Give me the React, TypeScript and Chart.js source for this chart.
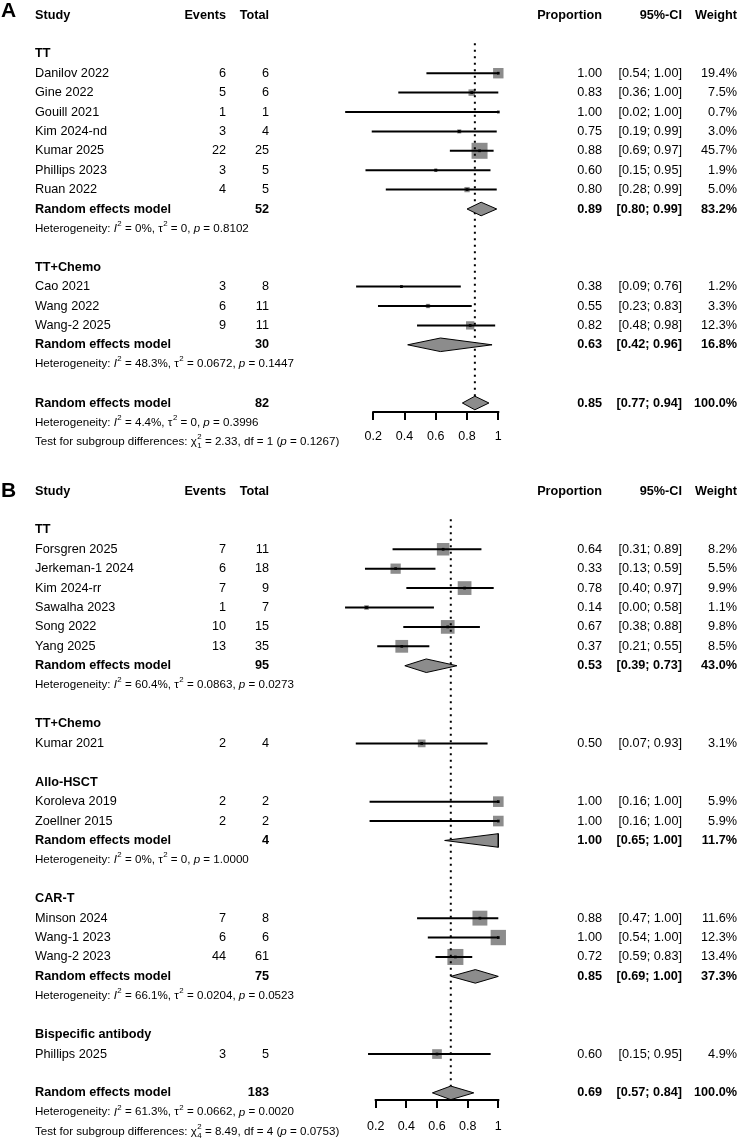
import React, { useEffect, useRef } from 'react';
import { Chart, registerables } from 'chart.js';

Chart.register(...registerables);

const FONT = '"Liberation Sans", Arial, Helvetica, sans-serif';

// ---------------- Panel A ----------------
const groupsA = ['TT', 'TT+Chemo'];
const studiesA = ['Danilov 2022', 'Gine 2022', 'Gouill 2021', 'Kim 2024-nd', 'Kumar 2025', 'Phillips 2023', 'Ruan 2022', 'Cao 2021', 'Wang 2022', 'Wang-2 2025'];
const studyGroupA = [0, 0, 0, 0, 0, 0, 0, 1, 1, 1];
const eventsA = [6, 5, 1, 3, 22, 3, 4, 3, 6, 9];
const totalsA = [6, 6, 1, 4, 25, 5, 5, 8, 11, 11];
const propA = [1.0, 0.83, 1.0, 0.75, 0.88, 0.6, 0.8, 0.38, 0.55, 0.82];
const lowerA = [0.54, 0.36, 0.02, 0.19, 0.69, 0.15, 0.28, 0.09, 0.23, 0.48];
const upperA = [1.0, 1.0, 1.0, 0.99, 0.97, 0.95, 0.99, 0.76, 0.83, 0.98];
const weightA = [19.4, 7.5, 0.7, 3.0, 45.7, 1.9, 5.0, 1.2, 3.3, 12.3];
const subTotalA = [52, 30];
const subPropA = [0.89, 0.63];
const subLowerA = [0.8, 0.42];
const subUpperA = [0.99, 0.96];
const subWeightA = [83.2, 16.8];
const subI2A = [0, 48.3];
const subTau2A = [0, 0.0672];
const subPA = [0.8102, 0.1447];
const overallA = [82, 0.85, 0.77, 0.94, 100.0]; // total, prop, lower, upper, weight
const overallHetA = [4.4, 0, 0.3996]; // I2, tau2, p
const subgroupTestA = [2.33, 1, 0.1267]; // chi2, df, p

// ---------------- Panel B ----------------
const groupsB = ['TT', 'TT+Chemo', 'Allo-HSCT', 'CAR-T', 'Bispecific antibody'];
const studiesB = ['Forsgren 2025', 'Jerkeman-1 2024', 'Kim 2024-rr', 'Sawalha 2023', 'Song 2022', 'Yang 2025', 'Kumar 2021', 'Koroleva 2019', 'Zoellner 2015', 'Minson 2024', 'Wang-1 2023', 'Wang-2 2023', 'Phillips 2025'];
const studyGroupB = [0, 0, 0, 0, 0, 0, 1, 2, 2, 3, 3, 3, 4];
const eventsB = [7, 6, 7, 1, 10, 13, 2, 2, 2, 7, 6, 44, 3];
const totalsB = [11, 18, 9, 7, 15, 35, 4, 2, 2, 8, 6, 61, 5];
const propB = [0.64, 0.33, 0.78, 0.14, 0.67, 0.37, 0.5, 1.0, 1.0, 0.88, 1.0, 0.72, 0.6];
const lowerB = [0.31, 0.13, 0.4, 0.0, 0.38, 0.21, 0.07, 0.16, 0.16, 0.47, 0.54, 0.59, 0.15];
const upperB = [0.89, 0.59, 0.97, 0.58, 0.88, 0.55, 0.93, 1.0, 1.0, 1.0, 1.0, 0.83, 0.95];
const weightB = [8.2, 5.5, 9.9, 1.1, 9.8, 8.5, 3.1, 5.9, 5.9, 11.6, 12.3, 13.4, 4.9];
const subTotalB = [95, null, 4, 75, null];
const subPropB = [0.53, null, 1.0, 0.85, null];
const subLowerB = [0.39, null, 0.65, 0.69, null];
const subUpperB = [0.73, null, 1.0, 1.0, null];
const subWeightB = [43.0, null, 11.7, 37.3, null];
const subI2B = [60.4, null, 0, 66.1, null];
const subTau2B = [0.0863, null, 0, 0.0204, null];
const subPB = [0.0273, null, 1.0, 0.0523, null];
const overallB = [183, 0.69, 0.57, 0.84, 100.0];
const overallHetB = [61.3, 0.0662, 0.002];
const subgroupTestB = [8.49, 4, 0.0753];

// ---------------- Axis ticks ----------------
const xTickValues = [0.2, 0.4, 0.6, 0.8, 1];
const xTickLabels = ['0.2', '0.4', '0.6', '0.8', '1'];

type Panel = {
  letter: string;
  groups: string[];
  studies: string[];
  studyGroup: number[];
  events: number[];
  totals: number[];
  prop: number[];
  lower: number[];
  upper: number[];
  weight: number[];
  subTotal: (number | null)[];
  subProp: (number | null)[];
  subLower: (number | null)[];
  subUpper: (number | null)[];
  subWeight: (number | null)[];
  subI2: (number | null)[];
  subTau2: (number | null)[];
  subP: (number | null)[];
  overall: number[];
  overallHet: number[];
  test: number[];
  layout: {
    top: number; height: number; padTop: number; padBottom: number; axisPx: number;
    x0: number; x1: number; tickPad: number; letterDy: number; pitch: number;
  };
};

const panelA: Panel = {
  letter: 'A', groups: groupsA, studies: studiesA, studyGroup: studyGroupA, events: eventsA, totals: totalsA,
  prop: propA, lower: lowerA, upper: upperA, weight: weightA, subTotal: subTotalA, subProp: subPropA,
  subLower: subLowerA, subUpper: subUpperA, subWeight: subWeightA, subI2: subI2A, subTau2: subTau2A, subP: subPA,
  overall: overallA, overallHet: overallHetA, test: subgroupTestA,
  layout: { top: 0, height: 460, padTop: 15, padBottom: 7, axisPx: 412, x0: 342.05, x1: 498.3, tickPad: 9, letterDy: -4, pitch: 19.4 },
};

const panelB: Panel = {
  letter: 'B', groups: groupsB, studies: studiesB, studyGroup: studyGroupB, events: eventsB, totals: totalsB,
  prop: propB, lower: lowerB, upper: upperB, weight: weightB, subTotal: subTotalB, subProp: subPropB,
  subLower: subLowerB, subUpper: subUpperB, subWeight: subWeightB, subI2: subI2B, subTau2: subTau2B, subP: subPB,
  overall: overallB, overallHet: overallHetB, test: subgroupTestB,
  layout: { top: 460, height: 690, padTop: 31, padBottom: 5, axisPx: 640, x0: 345.05, x1: 498.3, tickPad: 11, letterDy: 0, pitch: 19.415 },
};

type Row = { kind: 'group' | 'study' | 'sub' | 'het' | 'overall' | 'ohet' | 'test'; row: number; i: number };

function buildRows(p: Panel): Row[] {
  const rows: Row[] = [];
  let r = 2;
  p.groups.forEach((_, gi) => {
    rows.push({ kind: 'group', row: r++, i: gi });
    p.studies.forEach((__, si) => {
      if (p.studyGroup[si] === gi) rows.push({ kind: 'study', row: r++, i: si });
    });
    if (p.subTotal[gi] != null) {
      rows.push({ kind: 'sub', row: r++, i: gi });
      rows.push({ kind: 'het', row: r++, i: gi });
    }
    r++;
  });
  rows.push({ kind: 'overall', row: r++, i: 0 });
  rows.push({ kind: 'ohet', row: r++, i: 0 });
  rows.push({ kind: 'test', row: r++, i: 0 });
  return rows;
}

const fmtI2 = (v: number) => (v === 0 ? '0%' : `${v.toFixed(1)}%`);
const fmtTau = (v: number) => (v === 0 ? '0' : v.toFixed(4));
const fmtCI = (lo: number, hi: number) => `[${lo.toFixed(2)}; ${hi.toFixed(2)}]`;

type Seg = { t?: string; it?: boolean; sup?: string; sub?: string };

function drawRich(ctx: CanvasRenderingContext2D, segs: Seg[], x: number, y: number, size: number) {
  let cx = x;
  ctx.textAlign = 'left';
  ctx.textBaseline = 'middle';
  for (const s of segs) {
    if (s.sup !== undefined || s.sub !== undefined) {
      ctx.font = `${size * 0.68}px ${FONT}`;
      let w = 0;
      if (s.sup) {
        ctx.fillText(s.sup, cx + 0.5, y - size * 0.42);
        w = Math.max(w, ctx.measureText(s.sup).width);
      }
      if (s.sub) {
        ctx.fillText(s.sub, cx + 0.5, y + size * 0.38);
        w = Math.max(w, ctx.measureText(s.sub).width);
      }
      cx += w + 0.5;
    } else {
      ctx.font = `${s.it ? 'italic ' : ''}${size}px ${FONT}`;
      ctx.fillText(s.t || '', cx, y);
      cx += ctx.measureText(s.t || '').width;
    }
  }
}

const hetSegs = (i2: number, tau2: number, p: number): Seg[] => [
  { t: 'Heterogeneity: ' }, { t: 'I', it: true }, { sup: '2' }, { t: ` = ${fmtI2(i2)}, ` },
  { t: 'τ' }, { sup: '2' }, { t: ` = ${fmtTau(tau2)}, ` }, { t: 'p', it: true }, { t: ` = ${p.toFixed(4)}` },
];

const testSegs = (chi2: number, df: number, p: number): Seg[] => [
  { t: 'Test for subgroup differences: ' }, { t: 'χ' }, { sup: '2', sub: String(df) },
  { t: ` = ${chi2.toFixed(2)}, df = ${df} (` }, { t: 'p', it: true }, { t: ` = ${p.toFixed(4)})` },
];

const COL = { study: 35, events: 226, total: 269, prop: 602, ci: 682, weight: 737 };
const MAIN = 12.7;
const SMALL = 11.6;
const GRAY = '#8c8c8c';

function makeChart(canvas: HTMLCanvasElement, p: Panel) {
  const rows = buildRows(p);
  const L = p.layout;
  const yMax = (L.axisPx - L.padTop) / L.pitch;
  const studyRow = (si: number) => rows.find((r) => r.kind === 'study' && r.i === si)!.row;
  const wMax = Math.max(...p.weight);
  const sqMax = 16;
  const dh = 0.35;

  const datasets: any[] = [];
  // centre dots
  datasets.push({
    data: p.prop.map((v, i) => ({ x: v, y: studyRow(i) })),
    pointStyle: 'rect', pointRadius: 1.9, backgroundColor: '#000', borderWidth: 0, order: 0, clip: false,
  });
  // CI lines
  p.prop.forEach((_, i) => {
    datasets.push({
      data: [{ x: p.lower[i], y: studyRow(i) }, { x: p.upper[i], y: studyRow(i) }],
      showLine: true, borderColor: '#000', borderWidth: 2, pointRadius: 0, order: 1, clip: false,
    });
  });
  // diamonds
  const diamond = (row: number, est: number, lo: number, hi: number) => ({
    data: [
      { x: lo, y: row }, { x: est, y: row - dh }, { x: hi, y: row }, { x: est, y: row + dh }, { x: lo, y: row },
    ],
    showLine: true, fill: 'shape', backgroundColor: GRAY, borderColor: '#000', borderWidth: 1, pointRadius: 0,
    order: 2, clip: false, tension: 0,
  });
  rows.forEach((r) => {
    if (r.kind === 'sub') datasets.push(diamond(r.row, p.subProp[r.i]!, p.subLower[r.i]!, p.subUpper[r.i]!));
    if (r.kind === 'overall') datasets.push(diamond(r.row, p.overall[1], p.overall[2], p.overall[3]));
  });
  // dotted reference line at pooled estimate
  datasets.push({
    data: [{ x: p.overall[1], y: 1.45 }, { x: p.overall[1], y: yMax }],
    showLine: true, borderColor: '#000', borderWidth: 2, borderDash: [2, 4.5], pointRadius: 0, order: 3, clip: false,
  });
  // weighted squares
  datasets.push({
    data: p.prop.map((v, i) => ({ x: v, y: studyRow(i) })),
    pointStyle: 'rect',
    pointRadius: p.weight.map((w) => (sqMax * Math.sqrt(w / wMax)) / Math.SQRT2),
    backgroundColor: GRAY, borderWidth: 0, order: 4, clip: false,
  });

  const textPlugin = {
    id: 'forestText',
    afterDraw(chart: any) {
      const ctx: CanvasRenderingContext2D = chart.ctx;
      const ys = chart.scales.y;
      const xs = chart.scales.x;
      const py = (r: number) => ys.getPixelForValue(r);
      ctx.save();
      ctx.fillStyle = '#000';
      // axis line between first and last tick
      ctx.strokeStyle = '#000';
      ctx.lineWidth = 2;
      ctx.beginPath();
      ctx.moveTo(xs.getPixelForValue(xTickValues[0]) - 1, xs.top);
      ctx.lineTo(xs.getPixelForValue(xTickValues[xTickValues.length - 1]) + 1, xs.top);
      ctx.stroke();

      const txt = (s: string, x: number, y: number, align: CanvasTextAlign, bold = false, size = MAIN) => {
        ctx.font = `${bold ? 'bold ' : ''}${size}px ${FONT}`;
        ctx.textAlign = align;
        ctx.textBaseline = 'middle';
        ctx.fillText(s, x, y);
      };
      // panel letter
      txt(p.letter, 1, py(0) + L.letterDy, 'left', true, 21);
      // header
      const hy = py(0);
      txt('Study', COL.study, hy, 'left', true);
      txt('Events', COL.events, hy, 'right', true);
      txt('Total', COL.total, hy, 'right', true);
      txt('Proportion', COL.prop, hy, 'right', true);
      txt('95%-CI', COL.ci, hy, 'right', true);
      txt('Weight', COL.weight, hy, 'right', true);

      rows.forEach((r) => {
        const y = py(r.row);
        if (r.kind === 'group') {
          txt(p.groups[r.i], COL.study, y, 'left', true);
        } else if (r.kind === 'study') {
          const i = r.i;
          txt(p.studies[i], COL.study, y, 'left');
          txt(String(p.events[i]), COL.events, y, 'right');
          txt(String(p.totals[i]), COL.total, y, 'right');
          txt(p.prop[i].toFixed(2), COL.prop, y, 'right');
          txt(fmtCI(p.lower[i], p.upper[i]), COL.ci, y, 'right');
          txt(`${p.weight[i].toFixed(1)}%`, COL.weight, y, 'right');
        } else if (r.kind === 'sub' || r.kind === 'overall') {
          const g = r.i;
          const n = r.kind === 'sub' ? p.subTotal[g]! : p.overall[0];
          const e = r.kind === 'sub' ? p.subProp[g]! : p.overall[1];
          const lo = r.kind === 'sub' ? p.subLower[g]! : p.overall[2];
          const hi = r.kind === 'sub' ? p.subUpper[g]! : p.overall[3];
          const w = r.kind === 'sub' ? p.subWeight[g]! : p.overall[4];
          txt('Random effects model', COL.study, y, 'left', true);
          txt(String(n), COL.total, y, 'right', true);
          txt(e.toFixed(2), COL.prop, y, 'right', true);
          txt(fmtCI(lo, hi), COL.ci, y, 'right', true);
          txt(`${w.toFixed(1)}%`, COL.weight, y, 'right', true);
        } else if (r.kind === 'het') {
          drawRich(ctx, hetSegs(p.subI2[r.i]!, p.subTau2[r.i]!, p.subP[r.i]!), COL.study, y, SMALL);
        } else if (r.kind === 'ohet') {
          drawRich(ctx, hetSegs(p.overallHet[0], p.overallHet[1], p.overallHet[2]), COL.study, y, SMALL);
        } else if (r.kind === 'test') {
          drawRich(ctx, testSegs(p.test[0], p.test[1], p.test[2]), COL.study, y, SMALL);
        }
      });
      ctx.restore();
    },
  };

  return new Chart(canvas, {
    type: 'scatter',
    data: { datasets },
    options: {
      responsive: false,
      animation: false,
      events: [],
      layout: { padding: { left: L.x0, right: 740 - L.x1, top: L.padTop, bottom: L.padBottom } },
      plugins: { legend: { display: false }, tooltip: { enabled: false }, title: { display: false } },
      scales: {
        x: {
          type: 'linear',
          position: 'bottom',
          min: 0,
          max: 1,
          afterBuildTicks: (scale: any) => {
            scale.ticks = xTickValues.map((v) => ({ value: v }));
          },
          ticks: {
            autoSkip: false,
            maxRotation: 0,
            padding: L.tickPad,
            color: '#000',
            font: { family: FONT, size: 12.5 },
            callback: (v: any) => {
              const k = xTickValues.findIndex((t) => Math.abs(t - Number(v)) < 1e-6);
              return k >= 0 ? xTickLabels[k] : '';
            },
          },
          grid: { display: true, drawOnChartArea: false, drawTicks: true, tickLength: 8, color: '#000', lineWidth: 2 },
          border: { display: false },
        },
        y: { type: 'linear', display: false, reverse: true, min: 0, max: yMax },
      },
    },
    plugins: [textPlugin as any],
  } as any);
}

function ForestPanel({ panel }: { panel: Panel }) {
  const ref = useRef<HTMLCanvasElement | null>(null);
  useEffect(() => {
    if (!ref.current) return;
    const chart = makeChart(ref.current, panel);
    return () => chart.destroy();
  }, [panel]);
  const L = panel.layout;
  return (
    <canvas
      ref={ref}
      width={740}
      height={L.height}
      style={{ position: 'absolute', left: 0, top: L.top, width: 740, height: L.height }}
    />
  );
}

export default function App() {
  return (
    <div style={{ position: 'absolute', left: 0, top: 0, width: 740, height: 1141, overflow: 'hidden', background: '#fff' }}>
      <ForestPanel panel={panelA} />
      <ForestPanel panel={panelB} />
    </div>
  );
}
